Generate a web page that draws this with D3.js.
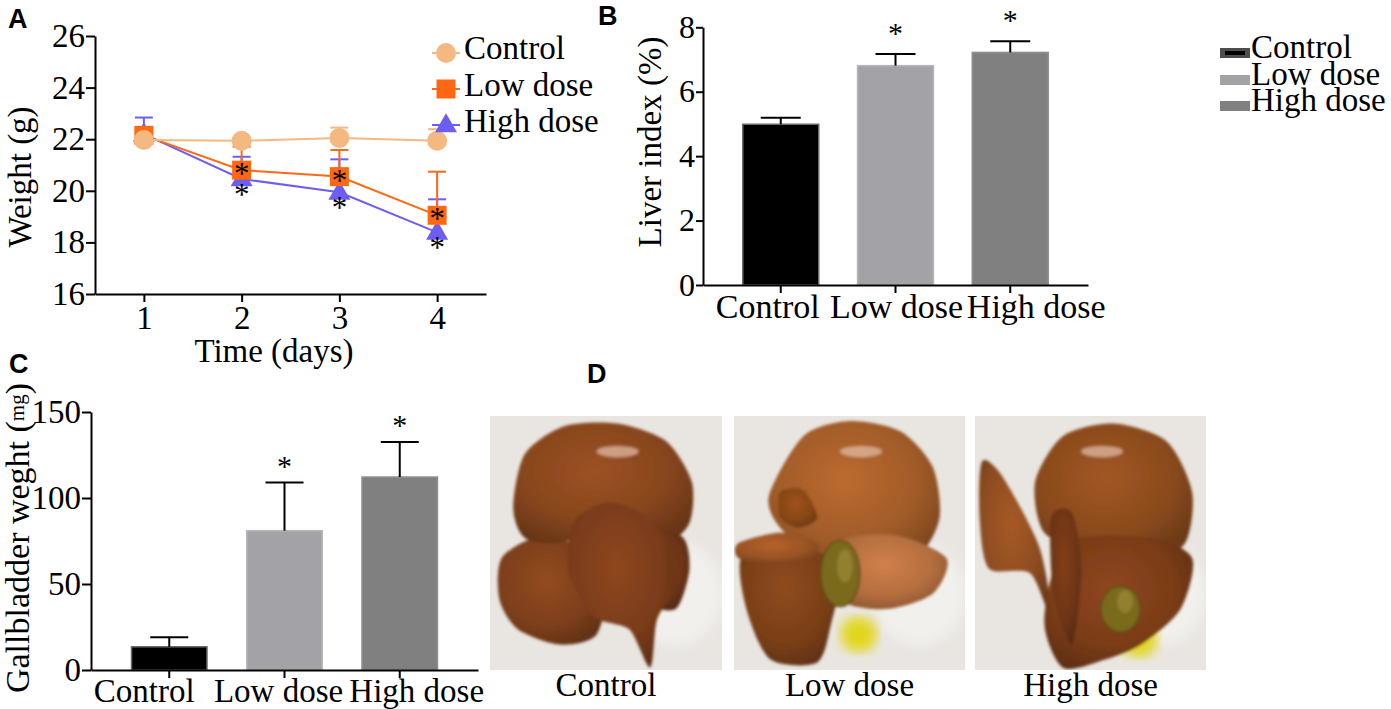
<!DOCTYPE html>
<html lang="en">
<head>
<meta charset="UTF-8" />
<script src="https://d3js.org/d3.v7.min.js"></script>
<title>Liver and gallbladder</title>
<style>
  body{margin:0;background:#fff;}
  .axis path,.axis line{stroke:#000;stroke-width:2;}
</style>
</head>
<body>
<script>
// ---- data ----
var days = [1, 2, 3, 4];
var weightTicks = [16, 18, 20, 22, 24, 26];
var weightControl = [21.97, 21.94, 22.05, 21.94];
var weightControlSd = [0.12, 0.12, 0.4, 0.45];
var weightLow = [22.15, 20.8, 20.55, 19.05];
var weightLowSd = [0.28, 0.91, 1.03, 1.69];
var weightHigh = [22.2, 20.46, 19.94, 18.39];
var weightHighSd = [0.64, 0.86, 1.28, 1.28];
var starLow = [false, true, true, true];
var starHigh = [false, true, true, true];

var groups = ["Control", "Low dose", "High dose"];
var liverTicks = [0, 2, 4, 6, 8];
var liverIndex = [4.99, 6.81, 7.22];
var liverIndexSd = [0.2, 0.36, 0.35];
var liverStar = [false, true, true];

var gbTicks = [0, 50, 100, 150];
var gbWeight = [13.5, 81, 112.2];
var gbWeightSd = [5.5, 28, 20.4];
var gbStar = [false, true, true];

var lineColors = ["#f4b981", "#ff6812", "#6c5ef5"];
var barColors = ["#000000", "#a3a3a7", "#808080"];
var barEdges = ["#6a6a6a", "#b8b8bb", "#8f8f8f"];

var serif = '"Liberation Serif", "Times New Roman", Times, "DejaVu Serif", serif';
var sans = '"Liberation Sans", Arial, Helvetica, sans-serif';

var width = 1391, height = 709;
var svg = d3.select("body").append("svg").attr("width", width).attr("height", height);
var defs = svg.append("defs");

function txt(parent, size) {
  return parent.append("text").style("font-family", serif).style("font-size", size + "px").attr("fill", "#000");
}

// panel letters
[["A", 8, 28], ["B", 598, 25], ["C", 9, 373], ["D", 587, 383]].forEach(function (t) {
  svg.append("text").attr("x", t[1]).attr("y", t[2])
    .style("font-family", sans).style("font-weight", "bold").style("font-size", "27px").text(t[0]);
});

// ================= A : body weight =================
var xA = d3.scaleLinear().domain([0.5, 4.5]).range([95, 486]);
var yA = d3.scaleLinear().domain([16, 26]).range([294, 36]);

var axAy = svg.append("g").attr("class", "axis").attr("transform", "translate(95,0)")
  .call(d3.axisLeft(yA).tickValues(weightTicks).tickSize(9).tickSizeOuter(0).tickPadding(1));
var axAx = svg.append("g").attr("class", "axis").attr("transform", "translate(0,294)")
  .call(d3.axisBottom(xA).tickValues(days).tickFormat(d3.format("d")).tickSize(8).tickSizeOuter(0).tickPadding(4));
[axAy, axAx].forEach(function (a) {
  a.selectAll("text").style("font-family", serif).style("font-size", "33px");
});

txt(svg, 33).attr("transform", "translate(31,177) rotate(-90)")
  .attr("text-anchor", "middle").text("Weight (g)");
txt(svg, 33).attr("x", 274).attr("y", 362)
  .attr("text-anchor", "middle").text("Time (days)");

var series = [
  {name: "High dose", vals: weightHigh, sd: weightHighSd, color: lineColors[2], shape: "tri", stars: starHigh, starDy: 12},
  {name: "Low dose", vals: weightLow, sd: weightLowSd, color: lineColors[1], shape: "sq", stars: starLow, starDy: 0},
  {name: "Control", vals: weightControl, sd: weightControlSd, color: lineColors[0], shape: "circ", stars: null, starDy: 0}
];

function marker(g, shape, color, cx, cy) {
  if (shape === "circ") {
    g.append("circle").attr("cx", cx).attr("cy", cy).attr("r", 10).attr("fill", color);
  } else if (shape === "sq") {
    g.append("rect").attr("x", cx - 9.5).attr("y", cy - 9.5).attr("width", 19).attr("height", 19).attr("fill", color);
  } else {
    g.append("path").attr("transform", "translate(" + cx + "," + (cy + 1) + ")")
      .attr("d", d3.symbol(d3.symbolTriangle, 210)()).attr("fill", color);
  }
}

var lineA = d3.line().x(function (d, i) { return xA(days[i]); }).y(function (d) { return yA(d); });

series.forEach(function (s) {
  var g = svg.append("g");
  s.vals.forEach(function (v, i) {
    var cx = xA(days[i]);
    g.append("line").attr("x1", cx).attr("x2", cx).attr("y1", yA(v)).attr("y2", yA(v + s.sd[i]))
      .attr("stroke", s.color).attr("stroke-width", 2);
    g.append("line").attr("x1", cx - 9).attr("x2", cx + 9).attr("y1", yA(v + s.sd[i])).attr("y2", yA(v + s.sd[i]))
      .attr("stroke", s.color).attr("stroke-width", 2);
  });
  g.append("path").datum(s.vals).attr("d", lineA).attr("fill", "none")
    .attr("stroke", s.color).attr("stroke-width", 2);
  s.vals.forEach(function (v, i) { marker(g, s.shape, s.color, xA(days[i]), yA(v)); });
  if (s.stars) {
    s.vals.forEach(function (v, i) {
      if (!s.stars[i]) return;
      txt(g, 31).attr("x", xA(days[i])).attr("y", yA(v) + s.starDy + 14)
        .attr("text-anchor", "middle").text("*");
    });
  }
});

// legend A
var legA = [series[2], series[1], series[0]];
legA.forEach(function (s, i) {
  var cy = 53 + i * 36;
  svg.append("line").attr("x1", 432).attr("x2", 460).attr("y1", cy).attr("y2", cy)
    .attr("stroke", s.color).attr("stroke-width", 2);
  marker(svg, s.shape, s.color, 446, cy);
  txt(svg, 33).attr("x", 464).attr("y", 59 + i * 36.5).text(s.name);
});

// ================= bar panels (B, C) =================
function barPanel(opt) {
  var x = d3.scaleBand().domain(groups).range([opt.x0, opt.x1]).paddingInner(opt.pin).paddingOuter(opt.pout);
  var y = d3.scaleLinear().domain(opt.domain).range([opt.y0, opt.y1]);
  var g = svg.append("g");
  g.selectAll("rect.bar").data(opt.vals).join("rect").attr("class", "bar")
    .attr("x", function (d, i) { return x(groups[i]); })
    .attr("width", x.bandwidth())
    .attr("y", function (d) { return y(d); })
    .attr("height", function (d) { return y(0) - y(d); })
    .attr("fill", function (d, i) { return barColors[i]; })
    .attr("stroke", function (d, i) { return barEdges[i]; })
    .attr("stroke-width", 1.5);
  opt.vals.forEach(function (v, i) {
    var cx = x(groups[i]) + x.bandwidth() / 2, top = y(v + opt.sd[i]);
    g.append("line").attr("x1", cx).attr("x2", cx).attr("y1", y(v)).attr("y2", top)
      .attr("stroke", "#000").attr("stroke-width", 2);
    g.append("line").attr("x1", cx - opt.cap).attr("x2", cx + opt.cap).attr("y1", top).attr("y2", top)
      .attr("stroke", "#000").attr("stroke-width", 2);
    if (opt.stars[i]) {
      txt(g, 30).attr("x", cx).attr("y", top - opt.starGap + 14)
        .attr("text-anchor", "middle").text("*");
    }
  });
  var ay = svg.append("g").attr("class", "axis").attr("transform", "translate(" + opt.x0 + ",0)")
    .call(d3.axisLeft(y).tickValues(opt.ticks).tickSize(opt.tick).tickSizeOuter(0).tickPadding(1));
  ay.selectAll("text").style("font-family", serif).style("font-size", opt.fs + "px");
  var ax = svg.append("g").attr("class", "axis").attr("transform", "translate(0," + opt.y0 + ")")
    .call(d3.axisBottom(x).tickSize(8).tickSizeOuter(0).tickPadding(opt.xpad));
  ax.selectAll("text").style("font-family", serif).style("font-size", opt.xfs + "px")
    .attr("dx", function (d, i) { return opt.shift[i]; });
  return x;
}

// B : liver index
barPanel({
  x0: 703, x1: 1088, y0: 285, y1: 27.3, domain: [0, 8], pin: 0.338, pout: 0.3466,
  vals: liverIndex, sd: liverIndexSd, stars: liverStar, ticks: liverTicks,
  cap: 20, starGap: 25, tick: 7, fs: 32, xfs: 34, xpad: 1, shift: [-13, 1, 26]
});
txt(svg, 33).attr("transform", "translate(661,142) rotate(-90)")
  .attr("text-anchor", "middle").text("Liver index (%)");

// legend B
groups.forEach(function (gname, i) {
  var base = [58, 85, 111][i];
  svg.append("rect").attr("x", 1220).attr("y", base - 10).attr("width", 30).attr("height", 10)
    .attr("fill", i === 0 ? "#4e4e4e" : barColors[i]);
  if (i === 0) {
    svg.append("rect").attr("x", 1225).attr("y", base - 7).attr("width", 20).attr("height", 4).attr("fill", "#000");
  }
  txt(svg, 33).attr("x", 1251).attr("y", base).text(gname);
});

// C : gallbladder weight
barPanel({
  x0: 91, x1: 478, y0: 670, y1: 412, domain: [0, 150], pin: 0.345, pout: 0.3515,
  vals: gbWeight, sd: gbWeightSd, stars: gbStar, ticks: gbTicks,
  cap: 19, starGap: 21, tick: 9, fs: 33, xfs: 33, xpad: 1, shift: [-25, -6, 17]
});
var yl = txt(svg, 34).attr("transform", "translate(29,538) rotate(-90)")
  .attr("text-anchor", "middle");
yl.append("tspan").text("Gallbladder weght (");
yl.append("tspan").style("font-size", "21px").attr("baseline-shift", "5").text("mg");
yl.append("tspan").text(")");

// ================= D : photographs (drawn as sketches) =================
var photos = [
  {label: "Control", x: 490, w: 232},
  {label: "Low dose", x: 734, w: 231},
  {label: "High dose", x: 975, w: 231}
];
var photoTop = 416, photoH = 254;

var lobes = [
  [ // control
    {c: "#7d3f1b", p: [[0.05,0.56],[0.2,0.48],[0.42,0.52],[0.5,0.66],[0.46,0.86],[0.3,0.9],[0.12,0.84],[0.04,0.72]]},
    {c: "#86451d", p: [[0.1,0.36],[0.15,0.15],[0.32,0.04],[0.55,0.03],[0.76,0.1],[0.87,0.26],[0.86,0.42],[0.76,0.5],[0.6,0.46],[0.45,0.45],[0.3,0.5],[0.15,0.48]]},
    {c: "#6e3517", p: [[0.6,0.5],[0.82,0.47],[0.86,0.6],[0.8,0.76],[0.66,0.72]]},
    {c: "#7a3c1a", p: [[0.36,0.42],[0.5,0.34],[0.65,0.38],[0.77,0.5],[0.8,0.67],[0.72,0.8],[0.69,0.99],[0.6,0.84],[0.45,0.79],[0.34,0.62]]}
  ],
  [ // low dose
    {c: "#7a3f18", p: [[0.03,0.56],[0.2,0.47],[0.38,0.5],[0.46,0.62],[0.42,0.82],[0.36,0.97],[0.16,0.96],[0.06,0.78]]},
    {c: "#a05b28", p: [[0.15,0.32],[0.3,0.08],[0.5,0.02],[0.72,0.06],[0.86,0.2],[0.89,0.4],[0.8,0.55],[0.6,0.6],[0.4,0.55],[0.22,0.46]]},
    {c: "#b26d3e", p: [[0.44,0.5],[0.7,0.47],[0.92,0.56],[0.86,0.7],[0.66,0.76],[0.46,0.72]]},
    {c: "#9a5324", p: [[0.02,0.5],[0.2,0.46],[0.36,0.5],[0.34,0.56],[0.16,0.58],[0.02,0.56]]},
    {c: "#874617", p: [[0.2,0.3],[0.3,0.29],[0.36,0.4],[0.28,0.44],[0.2,0.4]]}
  ],
  [ // high dose
    {c: "#8a4a1d", p: [[0.26,0.26],[0.38,0.08],[0.6,0.03],[0.83,0.1],[0.94,0.3],[0.91,0.5],[0.76,0.56],[0.5,0.53],[0.3,0.46]]},
    {c: "#7a3c18", p: [[0.4,0.5],[0.76,0.48],[0.94,0.56],[0.89,0.76],[0.72,0.9],[0.56,0.96],[0.38,0.99],[0.3,0.8]]},
    {c: "#8d4c20", p: [[0.03,0.18],[0.12,0.24],[0.28,0.52],[0.33,0.8],[0.24,0.62],[0.06,0.6],[0.02,0.4]]},
    {c: "#6e3515", p: [[0.33,0.4],[0.42,0.38],[0.46,0.6],[0.42,0.9],[0.34,0.7]]}
  ]
];
var galls = [null, {cx: 0.46, cy: 0.62, rx: 0.085, ry: 0.13, gy: 0.86}, {cx: 0.63, cy: 0.76, rx: 0.085, ry: 0.09, gy: 0.88}];

defs.append("filter").attr("id", "soft").append("feGaussianBlur").attr("stdDeviation", 1.4);
defs.append("filter").attr("id", "glow").append("feGaussianBlur").attr("stdDeviation", 6);

function shade(id, c) {
  var gr = defs.append("radialGradient").attr("id", id).attr("cx", "45%").attr("cy", "40%").attr("r", "65%");
  gr.append("stop").attr("offset", "0%").attr("stop-color", d3.color(c).brighter(0.45));
  gr.append("stop").attr("offset", "65%").attr("stop-color", c);
  gr.append("stop").attr("offset", "100%").attr("stop-color", d3.color(c).darker(0.7));
  return "url(#" + id + ")";
}

var blob = d3.line().curve(d3.curveCardinalClosed.tension(0.2));

photos.forEach(function (ph, k) {
  var px = d3.scaleLinear().domain([0, 1]).range([ph.x, ph.x + ph.w]);
  var py = d3.scaleLinear().domain([0, 1]).range([photoTop, photoTop + photoH]);
  defs.append("clipPath").attr("id", "clip" + k).append("rect")
    .attr("x", ph.x).attr("y", photoTop).attr("width", ph.w).attr("height", photoH);
  var g = svg.append("g").attr("clip-path", "url(#clip" + k + ")");
  g.append("rect").attr("x", ph.x).attr("y", photoTop).attr("width", ph.w).attr("height", photoH).attr("fill", "#e9e6e2");
  g.append("ellipse").attr("cx", px(0.8)).attr("cy", py(0.7)).attr("rx", ph.w * 0.2).attr("ry", photoH * 0.2)
    .attr("fill", "#f2f0ed").attr("filter", "url(#glow)");
  var sg = g.append("g").attr("filter", "url(#soft)");
  if (galls[k]) {
    sg.append("ellipse").attr("cx", px(galls[k].cx + 0.08)).attr("cy", py(galls[k].gy)).attr("rx", ph.w * 0.08).attr("ry", photoH * 0.07)
      .attr("fill", "#e2d61c").attr("filter", "url(#glow)");
  }
  lobes[k].forEach(function (l, j) {
    sg.append("path").attr("d", blob(l.p.map(function (q) { return [px(q[0]), py(q[1])]; })))
      .attr("fill", shade("lobe" + k + "_" + j, l.c));
  });
  sg.append("ellipse").attr("cx", px(0.55)).attr("cy", py(0.14)).attr("rx", ph.w * 0.09).attr("ry", photoH * 0.022)
    .attr("fill", "#e0b9a3").attr("opacity", 0.75);
  if (galls[k]) {
    var gb = galls[k];
    sg.append("ellipse").attr("cx", px(gb.cx)).attr("cy", py(gb.cy)).attr("rx", ph.w * gb.rx).attr("ry", photoH * gb.ry)
      .attr("fill", "#7a6a1e").attr("stroke", "#5e4a14").attr("stroke-width", 1.5);
    sg.append("ellipse").attr("cx", px(gb.cx + 0.02)).attr("cy", py(gb.cy - 0.03)).attr("rx", ph.w * gb.rx * 0.4).attr("ry", photoH * gb.ry * 0.5)
      .attr("fill", "#9c8a35").attr("opacity", 0.7);
  }
  txt(svg, 33).attr("x", ph.x + ph.w / 2).attr("y", 696)
    .attr("text-anchor", "middle").text(ph.label);
});
</script>
</body>
</html>
